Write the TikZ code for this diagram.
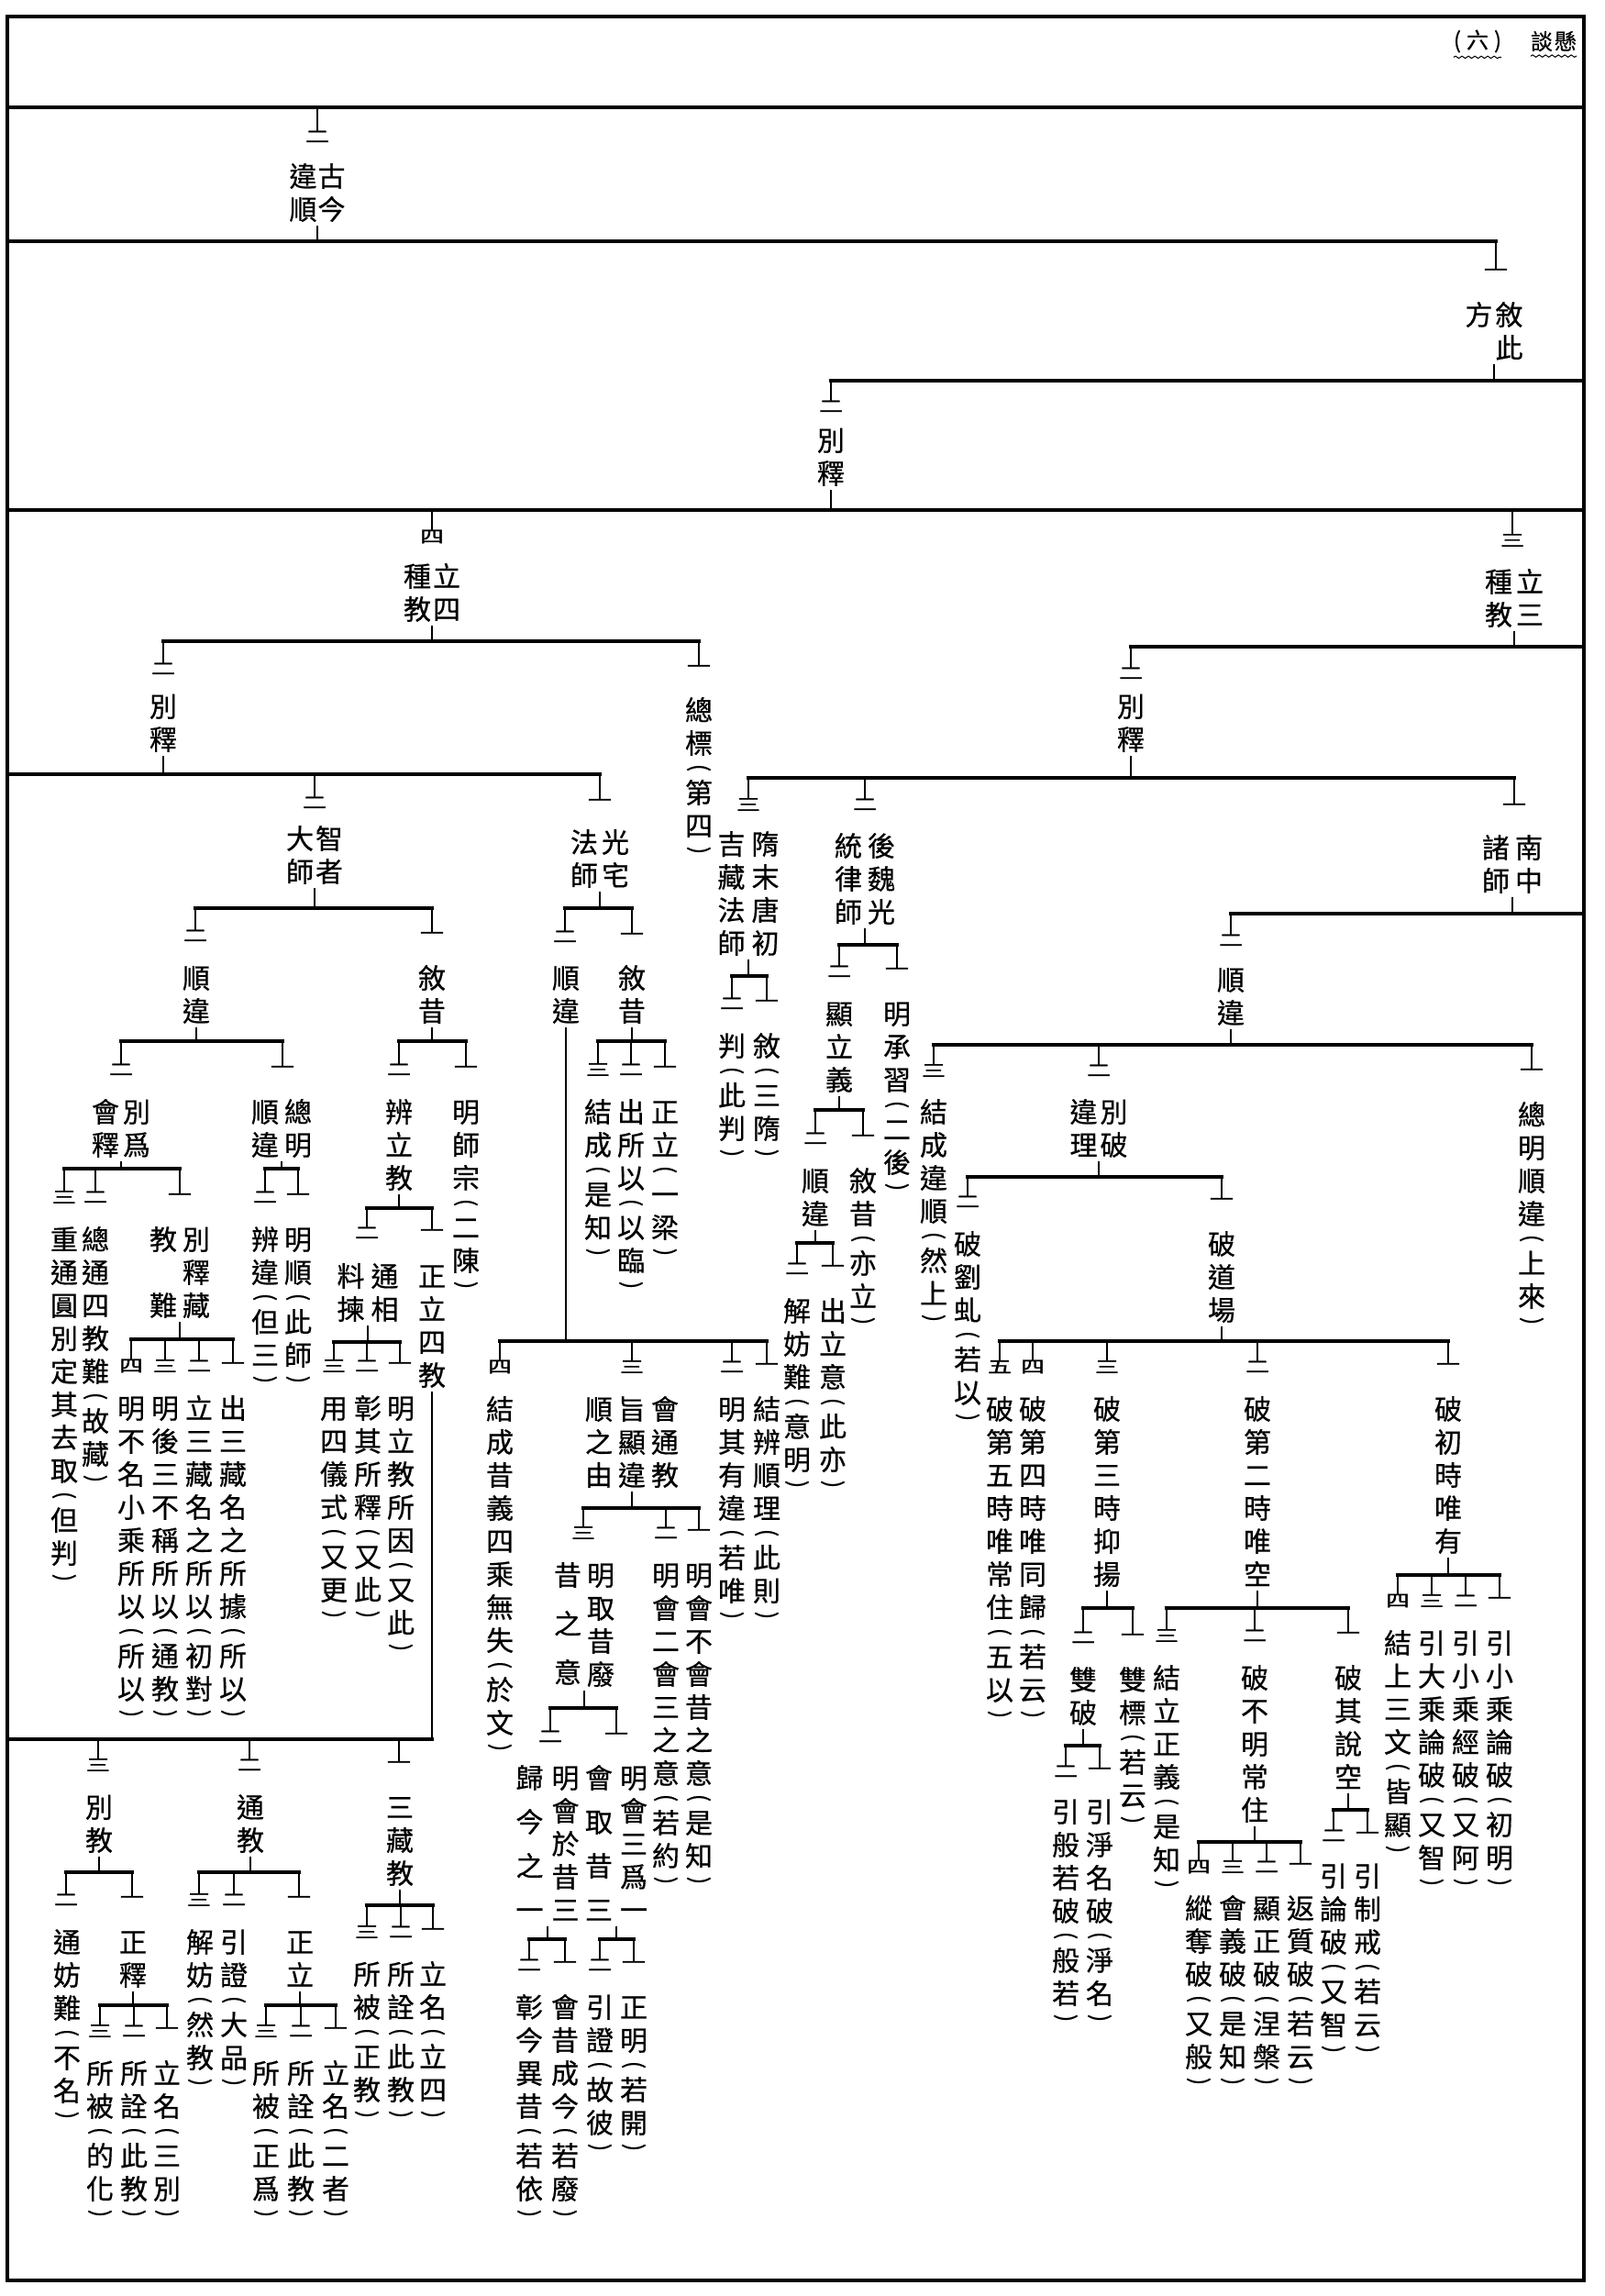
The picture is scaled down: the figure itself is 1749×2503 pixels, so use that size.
\documentclass[tikz,border=0pt]{standalone}
\usepackage{fontspec}
\usepackage{graphicx}
\usetikzlibrary{decorations.pathmorphing}
\newfontfamily\cjk[FakeBold=0.6]{Noto Sans CJK TC}
\newfontfamily\cjknum[FakeBold=1.5]{Noto Sans CJK TC}
\newdimen\vtcw \vtcw=30pt
\newdimen\vtph \vtph=18pt
\newdimen\vtgapsize
\def\vtend{\vtend}
\def\vtgap{\vtgap}
\newcommand\vt[2][0pt]{\vtop{\offinterlineskip\vtgapsize=#1\relax\vtparse#2\vtend}}
\def\vtparse#1{\ifx#1\vtend\else\vtitem{#1}\expandafter\vtparse\fi}
\def\vtchar#1{\hbox to\vtcw{\hss\vbox to36pt{\vss\hbox{\vrule height.88em depth.12em width0pt\relax#1}\vss}\hss}}
\def\vtparen#1{\hbox to\vtcw{\hss\vbox to\vtph{\vss\hbox{\rotatebox{-90}{\scalebox{0.85}{#1}}}\vss}\hss}}
\def\vtitem#1{\ifx#1\vtgap\kern\vtgapsize\else\ifx#1(\vtparen{(}\else\ifx#1)\vtparen{)}\else\vtchar{#1}\fi\fi\fi}
\newcommand\twocol[3]{\hbox{\vt{#2}\hskip#1\vt{#3}}}
\newcommand\mklab[4]{\node[lab] (#1) at (#2,#3-18) {#4};}
\newcommand\mknum[4]{\node[numlab] (#1) at (#2,#3) {\scalebox{1}[0.7]{#4}};}
\newcommand\mkbar[3]{\draw[hbarline] (#2|-#1) -- (#3|-#1);}
\newcommand\mkdrops[2]{\foreach \dn in {#2}{\draw[vtick] (\dn|-#1) -- (\dn.north);}}
\newcommand\mkup[2]{\draw[vtick] (#1.south) -- (#1.south|-#2);}
\begin{document}
\begin{tikzpicture}[x=1pt,y=-1pt,
  lab/.style={inner sep=0pt,outer sep=0pt,anchor=north,font=\cjk\fontsize{30pt}{36pt}\selectfont},
  numlab/.style={inner sep=0pt,outer sep=0pt,font=\cjknum\fontsize{26pt}{26pt}\selectfont},
  hdrlab/.style={inner sep=0pt,outer sep=0pt,font=\cjk\fontsize{24pt}{24pt}\selectfont},
  wavy/.style={line width=1pt,decorate,decoration={snake,amplitude=1.2pt,segment length=7pt}},
  hbarline/.style={line width=3.5pt,line cap=rect},
  vtick/.style={line width=1.5pt},
  pageframe/.style={line width=4pt}]
\fill[white] (0,0) rectangle (1749,2503);
\useasboundingbox (0,0) rectangle (1749,2503);
\draw[pageframe] (8,18) rectangle (1727,2486);
\coordinate (FL) at (8,0);
\coordinate (FR) at (1727,0);
% header
\node[hdrlab] (hdrA) at (1611,45) {(\hskip6pt 六\hskip6pt )};
\node[hdrlab] (hdrB) at (1694,45) {談\hskip2pt 懸};
\draw[wavy] ([yshift=-5pt]hdrA.south west) -- ([yshift=-5pt]hdrA.south east);
\draw[wavy] ([yshift=-5pt]hdrB.south west) -- ([yshift=-5pt]hdrB.south east);
% top levels
\coordinate (L1) at (0,117);
\mkbar{L1}{FL}{FR}
\mknum{n1}{346}{149}{二}
\mkdrops{L1}{n1}
\mklab{t1}{346}{192}{\twocol{1pt}{違順}{古今}}
\coordinate (L2) at (0,263);
\mkup{t1}{L2}
\mknum{n2}{1631}{297}{一}
\mkbar{L2}{FL}{n2}
\mkdrops{L2}{n2}
\mklab{t2}{1629}{343}{\twocol{3pt}{方}{敘此}}
\coordinate (L3) at (0,415);
\mkup{t2}{L3}
\mknum{n3}{906}{443}{二}
\mkbar{L3}{n3}{FR}
\mkdrops{L3}{n3}
\mklab{t3}{906}{480}{\vt{別釋}}
\coordinate (L4) at (0,556);
\mkup{t3}{L4}
\mkbar{L4}{FL}{FR}
\mknum{n4}{471}{585}{四}
\mknum{n5}{1649}{589}{三}
\mkdrops{L4}{n4,n5}
\mklab{t4}{471}{628}{\twocol{2pt}{種教}{立四}}
\mklab{t5}{1651}{634}{\twocol{4pt}{種教}{立三}}
\coordinate (L5) at (0,699);
\coordinate (L6) at (0,705);
\mkup{t4}{L5}
\mkup{t5}{L6}
\mknum{n6}{178}{729}{二}
\mknum{n7}{762}{729}{一}
\mkbar{L5}{n6}{n7}
\mkdrops{L5}{n6,n7}
\mknum{n8}{1233}{734}{二}
\mkbar{L6}{n8}{FR}
\mkdrops{L6}{n8}
\mklab{t6}{178}{770}{\vt{別釋}}
\mklab{t7}{762}{774}{\vt{總標(第四)}}
\mklab{t8}{1233}{770}{\vt{別釋}}
% left: L7
\coordinate (L7) at (0,844);
\mkup{t6}{L7}
\mknum{n9}{343}{875}{二}
\mknum{n10}{654}{875}{一}
\mkbar{L7}{FL}{n10}
\mkdrops{L7}{n9,n10}
\mklab{t9}{343}{914}{\twocol{2pt}{大師}{智者}}
\mklab{t10}{654}{918}{\twocol{4pt}{法師}{光宅}}
% right: L11
\coordinate (L11) at (0,848);
\mkup{t8}{L11}
\mknum{n11}{816}{877}{三}
\mknum{n12}{943}{877}{二}
\mknum{n13}{1651}{880}{一}
\mkbar{L11}{n11}{n13}
\mkdrops{L11}{n11,n12,n13}
\mklab{t11}{816}{920}{\twocol{7pt}{吉藏法師}{隋末唐初}}
\mklab{t12}{943}{922}{\twocol{6pt}{統律師}{後魏光}}
\mklab{t13}{1649}{924}{\twocol{6pt}{諸師}{南中}}
\coordinate (L12) at (0,1064);
\mkup{t11}{L12}
\mknum{n14}{798}{1094}{二}
\mknum{n15}{836}{1094}{一}
\mkbar{L12}{n14}{n15}
\mkdrops{L12}{n14,n15}
\mklab{t14}{798}{1140}{\vt{判(此判)}}
\mklab{t15}{836}{1140}{\vt{敘(三隋)}}
\coordinate (L13) at (0,1030);
\mkup{t12}{L13}
\mknum{n16}{915}{1059}{二}
\mknum{n17}{978}{1059}{一}
\mkbar{L13}{n16}{n17}
\mkdrops{L13}{n16,n17}
\mklab{t16}{915}{1105}{\vt{顯立義}}
\mklab{t17}{978}{1105}{\vt{明承習(二後)}}
\coordinate (L14) at (0,1210);
\mkup{t16}{L14}
\mknum{n18}{889}{1241}{二}
\mknum{n19}{941}{1241}{一}
\mkbar{L14}{n18}{n19}
\mkdrops{L14}{n18,n19}
\mklab{t18}{889}{1287}{\vt{順違}}
\mklab{t19}{941}{1287}{\vt{敘昔(亦立)}}
\coordinate (L15) at (0,1355);
\mkup{t18}{L15}
\mknum{n20}{869}{1383}{二}
\mknum{n21}{908}{1383}{一}
\mkbar{L15}{n20}{n21}
\mkdrops{L15}{n20,n21}
\mklab{t20}{869}{1429}{\vt{解妨難(意明)}}
\mklab{t21}{908}{1429}{\vt{出立意(此亦)}}
% 南中諸師
\coordinate (L16) at (0,996);
\mkup{t13}{L16}
\mknum{n22}{1342}{1025}{二}
\mkbar{L16}{n22}{FR}
\mkdrops{L16}{n22}
\mklab{t22}{1342}{1068}{\vt{順違}}
\coordinate (L17) at (0,1139);
\mkup{t22}{L17}
\mknum{n23}{1018}{1167}{三}
\mknum{n24}{1198}{1167}{二}
\mknum{n25}{1670}{1169}{一}
\mkbar{L17}{n23}{n25}
\mkdrops{L17}{n23,n24,n25}
\mklab{t23}{1018}{1212}{\vt{結成違順(然上)}}
\mklab{t24}{1198}{1212}{\twocol{3pt}{違理}{別破}}
\mklab{t25}{1670}{1215}{\vt{總明順違(上來)}}
\coordinate (L18) at (0,1283);
\mkup{t24}{L18}
\mknum{n26}{1055}{1310}{二}
\mknum{n27}{1332}{1310}{一}
\mkbar{L18}{n26}{n27}
\mkdrops{L18}{n26,n27}
\mklab{t26}{1055}{1356}{\vt{破劉虬(若以)}}
\mklab{t27}{1332}{1356}{\vt{破道場}}
\coordinate (L19) at (0,1462);
\mkup{t27}{L19}
\mknum{n28}{1090}{1490}{五}
\mknum{n29}{1126}{1490}{四}
\mknum{n30}{1207}{1490}{三}
\mknum{n31}{1371}{1490}{二}
\mknum{n32}{1579}{1490}{一}
\mkbar{L19}{n28}{n32}
\mkdrops{L19}{n28,n29,n30,n31,n32}
\mklab{t28}{1090}{1536}{\vt{破第五時唯常住(五以)}}
\mklab{t29}{1126}{1536}{\vt{破第四時唯同歸(若云)}}
\mklab{t30}{1207}{1536}{\vt{破第三時抑揚}}
\mklab{t31}{1371}{1536}{\vt{破第二時唯空}}
\mklab{t32}{1579}{1536}{\vt{破初時唯有}}
\coordinate (L20) at (0,1753);
\mkup{t30}{L20}
\mknum{n33}{1181}{1785}{二}
\mknum{n34}{1235}{1785}{一}
\mkbar{L20}{n33}{n34}
\mkdrops{L20}{n33,n34}
\mklab{t33}{1181}{1831}{\vt{雙破}}
\mklab{t34}{1235}{1831}{\vt{雙標(若云)}}
\coordinate (L21) at (0,1903);
\mkup{t33}{L21}
\mknum{n35}{1162}{1931}{二}
\mknum{n36}{1199}{1931}{一}
\mkbar{L21}{n35}{n36}
\mkdrops{L21}{n35,n36}
\mklab{t35}{1162}{1975}{\vt{引般若破(般若)}}
\mklab{t36}{1199}{1975}{\vt{引淨名破(淨名)}}
\coordinate (L22) at (0,1753);
\mkup{t31}{L22}
\mknum{n37}{1272}{1783}{三}
\mknum{n38}{1368}{1783}{二}
\mknum{n39}{1470}{1783}{一}
\mkbar{L22}{n37}{n39}
\mkdrops{L22}{n37,n38,n39}
\mklab{t37}{1272}{1829}{\vt{結立正義(是知)}}
\mklab{t38}{1368}{1829}{\vt{破不明常住}}
\mklab{t39}{1470}{1829}{\vt{破其說空}}
\coordinate (L23) at (0,2008);
\mkup{t38}{L23}
\mknum{n40}{1307}{2035}{四}
\mknum{n41}{1344}{2035}{三}
\mknum{n42}{1381}{2035}{二}
\mknum{n43}{1418}{2035}{一}
\mkbar{L23}{n40}{n43}
\mkdrops{L23}{n40,n41,n42,n43}
\mklab{t40}{1307}{2080}{\vt{縱奪破(又般)}}
\mklab{t41}{1344}{2080}{\vt{會義破(是知)}}
\mklab{t42}{1381}{2080}{\vt{顯正破(涅槃)}}
\mklab{t43}{1418}{2080}{\vt{返質破(若云)}}
\coordinate (L24) at (0,1973);
\mkup{t39}{L24}
\mknum{n44}{1454}{2001}{二}
\mknum{n45}{1491}{2001}{一}
\mkbar{L24}{n44}{n45}
\mkdrops{L24}{n44,n45}
\mklab{t44}{1454}{2045}{\vt{引論破(又智)}}
\mklab{t45}{1491}{2045}{\vt{引制戒(若云)}}
\coordinate (L25) at (0,1717);
\mkup{t32}{L25}
\mknum{n46}{1524}{1745}{四}
\mknum{n47}{1561}{1745}{三}
\mknum{n48}{1598}{1745}{二}
\mknum{n49}{1635}{1745}{一}
\mkbar{L25}{n46}{n49}
\mkdrops{L25}{n46,n47,n48,n49}
\mklab{t46}{1524}{1791}{\vt{結上三文(皆顯)}}
\mklab{t47}{1561}{1791}{\vt{引大乘論破(又智)}}
\mklab{t48}{1598}{1791}{\vt{引小乘經破(又阿)}}
\mklab{t49}{1635}{1791}{\vt{引小乘論破(初明)}}
% 智者大師
\coordinate (L8) at (0,990);
\mkup{t9}{L8}
\mknum{n50}{213}{1020}{二}
\mknum{n51}{471}{1020}{一}
\mkbar{L8}{n50}{n51}
\mkdrops{L8}{n50,n51}
\mklab{t50}{214}{1066}{\vt{順違}}
\mklab{t51}{471}{1066}{\vt{敘昔}}
% 光宅法師
\coordinate (L9) at (0,990);
\mkup{t10}{L9}
\mknum{n52}{616}{1021}{二}
\mknum{n53}{689}{1021}{一}
\mkbar{L9}{n52}{n53}
\mkdrops{L9}{n52,n53}
\mklab{t52}{617}{1066}{\vt{順違}}
\mklab{t53}{689}{1066}{\vt{敘昔}}
\coordinate (L10) at (0,1135);
\mkup{t53}{L10}
\mknum{n54}{652}{1166}{三}
\mknum{n55}{688}{1166}{二}
\mknum{n56}{725}{1166}{一}
\mkbar{L10}{n54}{n56}
\mkdrops{L10}{n54,n55,n56}
\mklab{t54}{652}{1212}{\vt{結成(是知)}}
\mklab{t55}{688}{1212}{\vt{出所以(以臨)}}
\mklab{t56}{725}{1212}{\vt{正立(一梁)}}
\coordinate (L26) at (0,1462);
\mkup{t52}{L26}
\mknum{n57}{545}{1490}{四}
\mknum{n58}{689}{1490}{三}
\mknum{n59}{798}{1490}{二}
\mknum{n60}{836}{1490}{一}
\mkbar{L26}{n57}{n60}
\mkdrops{L26}{n57,n58,n59,n60}
\mklab{t57}{545}{1536}{\vt{結成昔義四乘無失(於文)}}
\mklab{t58}{689}{1536}{\hbox{\vt{順之由}\hskip6pt\vt{旨顯違}\hskip6pt\vt{會通教}}}
\mklab{t59}{798}{1536}{\vt{明其有違(若唯)}}
\mklab{t60}{836}{1536}{\vt{結辨順理(此則)}}
\coordinate (L27) at (0,1644);
\mkup{t58}{L27}
\mknum{n61}{636}{1671}{三}
\mknum{n62}{726}{1671}{二}
\mknum{n63}{762}{1671}{一}
\mkbar{L27}{n61}{n63}
\mkdrops{L27}{n61,n62,n63}
\mklab{t61}{637}{1717}{\hbox{\vt[17pt]{昔\vtgap 之\vtgap 意}\hskip6pt\vt{明取昔廢}}}
\mklab{t62}{726}{1717}{\vt{明會二會三之意(若約)}}
\mklab{t63}{762}{1717}{\vt{明會不會昔之意(是知)}}
\coordinate (L28) at (0,1862);
\mkup{t61}{L28}
\mknum{n64}{600}{1893}{二}
\mknum{n65}{672}{1893}{一}
\mkbar{L28}{n64}{n65}
\mkdrops{L28}{n64,n65}
\mklab{t64}{597}{1938}{\hbox{\vt[12pt]{歸\vtgap 今\vtgap 之\vtgap 一}\hskip9pt\vt{明會於昔三}}}
\mklab{t65}{672}{1938}{\hbox{\vt[12pt]{會\vtgap 取\vtgap 昔\vtgap 三}\hskip8pt\vt{明會三爲一}}}
\coordinate (L29) at (0,2114);
\mkup{t65}{L29}
\mknum{n66}{654}{2142}{二}
\mknum{n67}{691}{2142}{一}
\mkbar{L29}{n66}{n67}
\mkdrops{L29}{n66,n67}
\mklab{t66}{654}{2188}{\vt{引證(故彼)}}
\mklab{t67}{691}{2188}{\vt{正明(若開)}}
\coordinate (L30) at (0,2114);
\mkup{t64}{L30}
\mknum{n68}{577}{2142}{二}
\mknum{n69}{616}{2142}{一}
\mkbar{L30}{n68}{n69}
\mkdrops{L30}{n68,n69}
\mklab{t68}{577}{2188}{\vt{彰今異昔(若依)}}
\mklab{t69}{616}{2188}{\vt{會昔成今(若廢)}}
% 智者 順違
\coordinate (L31) at (0,1135);
\mkup{t50}{L31}
\mknum{n70}{132}{1166}{二}
\mknum{n71}{308}{1166}{一}
\mkbar{L31}{n70}{n71}
\mkdrops{L31}{n70,n71}
\mklab{t70}{132}{1212}{\twocol{4pt}{會釋}{別爲}}
\mklab{t71}{307}{1212}{\twocol{6pt}{順違}{總明}}
\coordinate (L33) at (0,1274);
\mkup{t71}{L33}
\mknum{n72}{289}{1305}{二}
\mknum{n73}{325}{1305}{一}
\mkbar{L33}{n72}{n73}
\mkdrops{L33}{n72,n73}
\mklab{t72}{289}{1351}{\vt{辨違(但三)}}
\mklab{t73}{325}{1351}{\vt{明順(此師)}}
\coordinate (L34) at (0,1274);
\mkup{t70}{L34}
\mknum{n74}{70}{1305}{三}
\mknum{n75}{104}{1305}{二}
\mknum{n76}{196}{1305}{一}
\mkbar{L34}{n74}{n76}
\mkdrops{L34}{n74,n75,n76}
\mklab{t74}{70}{1351}{\vt{重通圓別定其去取(但判)}}
\mklab{t75}{104}{1351}{\vt{總通四教難(故藏)}}
\mklab{t76}{196}{1351}{\twocol{6pt}{教　難}{別釋藏}}
\coordinate (L35) at (0,1460);
\mkup{t76}{L35}
\mknum{n77}{143}{1489}{四}
\mknum{n78}{180}{1489}{三}
\mknum{n79}{217}{1489}{二}
\mknum{n80}{254}{1489}{一}
\mkbar{L35}{n77}{n80}
\mkdrops{L35}{n77,n78,n79,n80}
\mklab{t77}{143}{1535}{\vt{明不名小乘所以(所以)}}
\mklab{t78}{180}{1535}{\vt{明後三不稱所以(通教)}}
\mklab{t79}{217}{1535}{\vt{立三藏名之所以(初對)}}
\mklab{t80}{254}{1535}{\vt{出三藏名之所據(所以)}}
% 智者 敘昔
\coordinate (L32) at (0,1135);
\mkup{t51}{L32}
\mknum{n81}{435}{1166}{二}
\mknum{n82}{508}{1166}{一}
\mkbar{L32}{n81}{n82}
\mkdrops{L32}{n81,n82}
\mklab{t81}{435}{1212}{\vt{辨立教}}
\mklab{t82}{508}{1212}{\vt{明師宗(二陳)}}
\coordinate (L36) at (0,1317);
\mkup{t81}{L36}
\mknum{n83}{400}{1344}{二}
\mknum{n84}{471}{1344}{一}
\mkbar{L36}{n83}{n84}
\mkdrops{L36}{n83,n84}
\mklab{t83}{401}{1391}{\twocol{7pt}{料揀}{通相}}
\mklab{t84}{471}{1391}{\vt{正立四教}}
\coordinate (L37) at (0,1463);
\mkup{t83}{L37}
\mknum{n85}{364}{1489}{三}
\mknum{n86}{400}{1489}{二}
\mknum{n87}{436}{1489}{一}
\mkbar{L37}{n85}{n87}
\mkdrops{L37}{n85,n86,n87}
\mklab{t85}{364}{1535}{\vt{用四儀式(又更)}}
\mklab{t86}{401}{1535}{\vt{彰其所釋(又此)}}
\mklab{t87}{437}{1535}{\vt{明立教所因(又此)}}
% 正立四教 children
\coordinate (L38) at (0,1896);
\mkup{t84}{L38}
\mkbar{L38}{FL}{t84.south}
\mknum{n88}{107}{1924}{三}
\mknum{n89}{272}{1924}{二}
\mknum{n90}{435}{1924}{一}
\mkdrops{L38}{n88,n89,n90}
\mklab{t88}{108}{1970}{\vt{別教}}
\mklab{t89}{273}{1970}{\vt{通教}}
\mklab{t90}{436}{1970}{\vt{三藏教}}
\coordinate (L39) at (0,2077);
\mkup{t90}{L39}
\mknum{n91}{400}{2106}{三}
\mknum{n92}{437}{2106}{二}
\mknum{n93}{472}{2106}{一}
\mkbar{L39}{n91}{n93}
\mkdrops{L39}{n91,n92,n93}
\mklab{t91}{400}{2152}{\vt{所被(正教)}}
\mklab{t92}{437}{2152}{\vt{所詮(此教)}}
\mklab{t93}{472}{2152}{\vt{立名(立四)}}
\coordinate (L40) at (0,2041);
\mkup{t89}{L40}
\mknum{n94}{217}{2071}{三}
\mknum{n95}{255}{2071}{二}
\mknum{n96}{326}{2071}{一}
\mkbar{L40}{n94}{n96}
\mkdrops{L40}{n94,n95,n96}
\mklab{t94}{218}{2117}{\vt{解妨(然教)}}
\mklab{t95}{255}{2117}{\vt{引證(大品)}}
\mklab{t96}{327}{2117}{\vt{正立}}
\coordinate (L41) at (0,2186);
\mkup{t96}{L41}
\mknum{n97}{290}{2214}{三}
\mknum{n98}{328}{2214}{二}
\mknum{n99}{366}{2214}{一}
\mkbar{L41}{n97}{n99}
\mkdrops{L41}{n97,n98,n99}
\mklab{t97}{290}{2260}{\vt{所被(正爲)}}
\mklab{t98}{328}{2260}{\vt{所詮(此教)}}
\mklab{t99}{366}{2260}{\vt{立名(二者)}}
\coordinate (L42) at (0,2041);
\mkup{t88}{L42}
\mknum{n100}{72}{2071}{二}
\mknum{n101}{144}{2071}{一}
\mkbar{L42}{n100}{n101}
\mkdrops{L42}{n100,n101}
\mklab{t100}{73}{2117}{\vt{通妨難(不名)}}
\mklab{t101}{145}{2117}{\vt{正釋}}
\coordinate (L43) at (0,2186);
\mkup{t101}{L43}
\mknum{n102}{109}{2214}{三}
\mknum{n103}{146}{2214}{二}
\mknum{n104}{182}{2214}{一}
\mkbar{L43}{n102}{n104}
\mkdrops{L43}{n102,n103,n104}
\mklab{t102}{109}{2260}{\vt{所被(的化)}}
\mklab{t103}{146}{2260}{\vt{所詮(此教)}}
\mklab{t104}{182}{2260}{\vt{立名(三別)}}
\end{tikzpicture}
\end{document}
